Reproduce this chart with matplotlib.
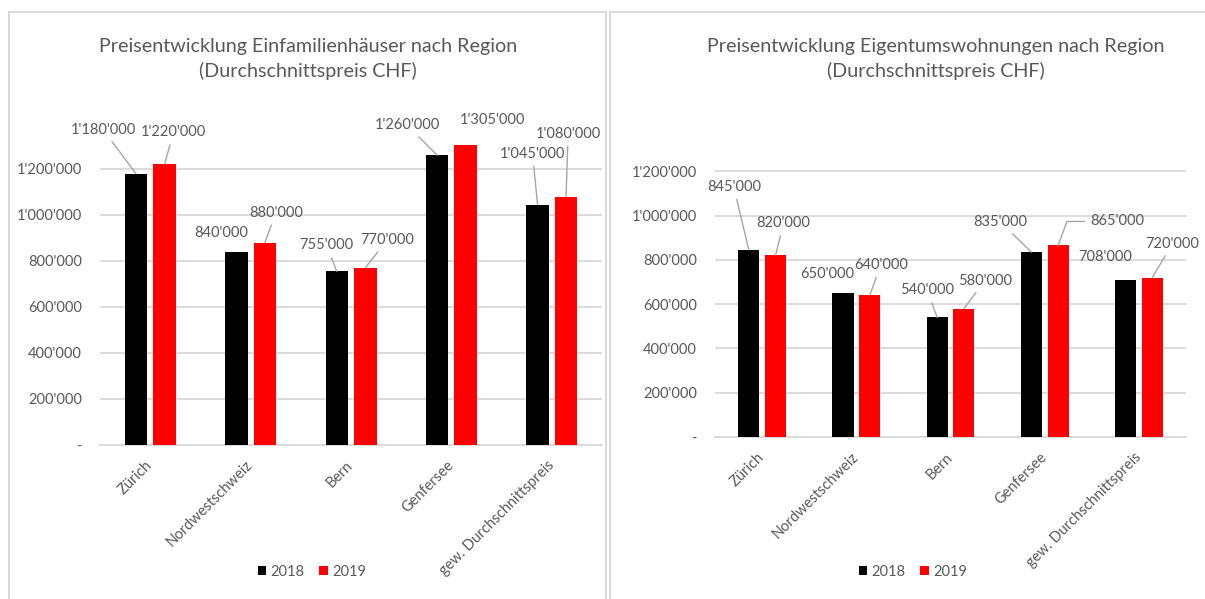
import matplotlib.pyplot as plt
from matplotlib.patches import Rectangle
from matplotlib.ticker import FuncFormatter

plt.rcParams['font.family'] = ['Lato', 'DejaVu Sans']

# data
regions = ['Zürich', 'Nordwestschweiz', 'Bern', 'Genfersee', 'gew. Durchschnittspreis']
years = ['2018', '2019']
efh_2018 = [1180000, 840000, 755000, 1260000, 1045000]
efh_2019 = [1220000, 880000, 770000, 1305000, 1080000]
etw_2018 = [845000, 650000, 540000, 835000, 708000]
etw_2019 = [820000, 640000, 580000, 865000, 720000]
y_ticks = [0, 200000, 400000, 600000, 800000, 1000000, 1200000]

# label placement (pixel offsets from bar top) and leader line flags
efh_off_2018 = [(-33, 44), (-15, 19), (-10, 26), (-30, 30), (-5, 51)]
efh_lead_2018 = [True, False, True, True, True]
efh_off_2019 = [(9, 32), (11, 30), (22, 28), (27, 25), (2, 63)]
efh_lead_2019 = [True, True, True, False, True]
etw_off_2018 = [(-15, 63), (-16, 19), (-10, 27), (-31, 30), (-20, 23)]
etw_lead_2018 = [True, False, True, True, False]
etw_off_2019 = [(8, 32), (11, 30), (21, 28), (59, 24), (20, 34)]
etw_lead_2019 = [True, True, True, 'elbow', True]

TXT = '#595959'
GRID = '#D9D9D9'
LEAD = '#A6A6A6'
COLORS = ['#000000', '#FF0000']
W = 0.224
OFF = 0.142


def fmt(v):
    if v == 0:
        return '-'
    return f'{int(v):,}'.replace(',', "'")


def draw_panel(ax, s18, s19, offs, leads):
    x = list(range(len(regions)))
    for k, (vals, color) in enumerate(zip([s18, s19], COLORS)):
        xs = [i + (2 * k - 1) * OFF for i in x]
        ax.bar(xs, vals, width=W, color=color, label=years[k], zorder=3)
        for xi, v, (dx, dy), lead in zip(xs, vals, offs[k], leads[k]):
            ap = None
            if lead == 'elbow':
                ap = dict(arrowstyle='-', color=LEAD, lw=1, shrinkA=2, shrinkB=0,
                          relpos=(0, 0.5), connectionstyle='angle,angleA=0,angleB=70,rad=0')
            elif lead:
                ap = dict(arrowstyle='-', color=LEAD, lw=1, shrinkA=2, shrinkB=0)
            ax.annotate(fmt(v), (xi, v), xytext=(dx, dy), textcoords='offset pixels',
                        ha='center', va='center', fontsize=10.5, color=TXT,
                        arrowprops=ap, annotation_clip=False, zorder=4)
    ax.set_xlim(-0.5, len(regions) - 0.5)
    ax.set_ylim(0, 1400000)
    ax.set_yticks(y_ticks)
    ax.yaxis.set_major_formatter(FuncFormatter(lambda v, p: fmt(v)))
    ax.grid(axis='y', color=GRID, lw=1.3, zorder=0)
    for s in ['top', 'right', 'left']:
        ax.spines[s].set_visible(False)
    ax.spines['bottom'].set_color(GRID)
    ax.spines['bottom'].set_linewidth(1.3)
    ax.tick_params(axis='y', length=0, pad=13, labelsize=10.5, labelcolor=TXT)
    ax.tick_params(axis='x', length=0, pad=13, labelsize=10.5, labelcolor=TXT)
    ax.set_xticks(x)
    ax.set_xticklabels(regions, rotation=45, ha='right', va='center', rotation_mode='anchor')


fig = plt.figure(figsize=(12.05, 5.99), dpi=100)
ax1 = fig.add_axes([0.0830, 0.2571, 0.4166, 0.5376])
ax2 = fig.add_axes([0.5934, 0.2705, 0.3909, 0.5175])

draw_panel(ax1, efh_2018, efh_2019, [efh_off_2018, efh_off_2019], [efh_lead_2018, efh_lead_2019])
draw_panel(ax2, etw_2018, etw_2019, [etw_off_2018, etw_off_2019], [etw_lead_2018, etw_lead_2019])

# titles
fig.text(308 / 1205, 1 - 59 / 599,
         'Preisentwicklung Einfamilienhäuser nach Region\n(Durchschnittspreis CHF)',
         ha='center', va='center', fontsize=14.2, color=TXT, linespacing=1.45)
fig.text(936 / 1205, 1 - 59 / 599,
         'Preisentwicklung Eigentumswohnungen nach Region\n(Durchschnittspreis CHF)',
         ha='center', va='center', fontsize=14.2, color=TXT, linespacing=1.45)

for ax, cx in [(ax1, 312 / 1205), (ax2, 913 / 1205)]:
    ax.legend(loc='center', bbox_to_anchor=(cx, 1 - 572 / 599), bbox_transform=fig.transFigure,
              ncol=2, frameon=False, fontsize=10.5, labelcolor=TXT, handlelength=0.6,
              handleheight=0.6, handletextpad=0.3, columnspacing=1.0)

# chart frames
fig.add_artist(Rectangle((9 / 1205, -0.01), 597 / 1205, 1 - 12 / 599 + 0.01, transform=fig.transFigure,
                         fill=False, edgecolor=GRID, lw=1.5))
fig.add_artist(Rectangle((610 / 1205, -0.01), 600 / 1205, 1 - 12 / 599 + 0.01, transform=fig.transFigure,
                         fill=False, edgecolor=GRID, lw=1.5))

fig.savefig('out.png', dpi=100)
